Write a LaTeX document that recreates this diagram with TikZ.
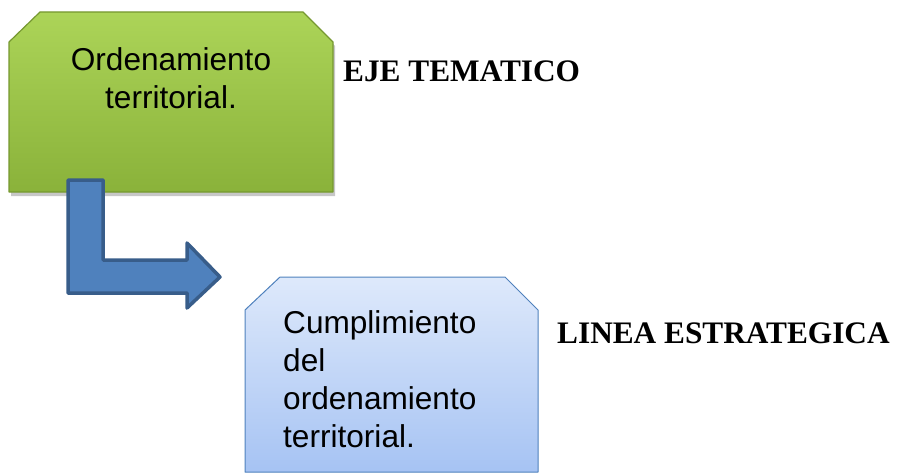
\documentclass[tikz,border=0pt]{standalone}
\usepackage{fontspec}
\setmainfont{Liberation Serif}
\newfontfamily\boxfont{Liberation Sans}
\begin{document}
\begin{tikzpicture}[x=1pt,y=-1pt,
  greenfill/.style={top color=greenTop,bottom color=greenBot},
  greenline/.style={draw=greenLine,line width=1.2pt,line join=round},
  bluefill/.style={top color=blueTop,bottom color=blueBot},
  blueline/.style={draw=blueLine,line width=1pt,line join=round},
  boxtext/.style={inner sep=0pt,font={\boxfont\fontsize{31.6}{38}\selectfont},text=black},
  labeltext/.style={inner sep=0pt,anchor=base west,font={\fontsize{31.3}{36}\selectfont\bfseries},text=black},
  arrowshape/.style={fill=arrowFill,draw=arrowLine,line width=3.5pt,line join=round}
]
\definecolor{greenTop}{RGB}{172,212,88}
\definecolor{greenBot}{RGB}{138,178,58}
\definecolor{greenLine}{RGB}{118,152,48}
\definecolor{blueTop}{RGB}{222,233,251}
\definecolor{blueBot}{RGB}{166,195,243}
\definecolor{blueLine}{RGB}{79,129,189}
\definecolor{arrowFill}{RGB}{79,129,189}
\definecolor{arrowLine}{RGB}{56,93,138}
\useasboundingbox (0,0) rectangle (901,473);
\clip (0,0) rectangle (901,473);
% shadow of green box
\fill[black,opacity=0.22,shift={(2pt,-4pt)}] (9,42) -- (40,12) -- (303,12) -- (333,42) -- (333,192) -- (9,192) -- cycle;
% green box
\shade[greenfill] (9,42) -- (40,12) -- (303,12) -- (333,42) -- (333,192) -- (9,192) -- cycle;
\draw[greenline] (9,42) -- (40,12) -- (303,12) -- (333,42) -- (333,192) -- (9,192) -- cycle;
\node[boxtext,align=center,anchor=north] (top) at (171,47) {Ordenamiento\\territorial.};
% blue box
\shade[bluefill] (245,310) -- (280,277) -- (505,277) -- (538,310) -- (538,472) -- (245,472) -- cycle;
\draw[blueline] (245,310) -- (280,277) -- (505,277) -- (538,310) -- (538,472) -- (245,472) -- cycle;
\node[boxtext,align=left,anchor=north west] (bot) at (283,310.5) {Cumplimiento\\del\\ordenamiento\\territorial.};
% bent arrow
\draw[arrowshape] (68,180) -- (103,180) -- (103,260) -- (187,260) -- (187,243) -- (220,277) -- (187,308) -- (187,293) -- (68,293) -- cycle;
% labels
\node[labeltext] (eje) at (343,82) {EJE TEMATICO};
\node[labeltext] (linea) at (557,343) {LINEA ESTRATEGICA};
\end{tikzpicture}
\end{document}
